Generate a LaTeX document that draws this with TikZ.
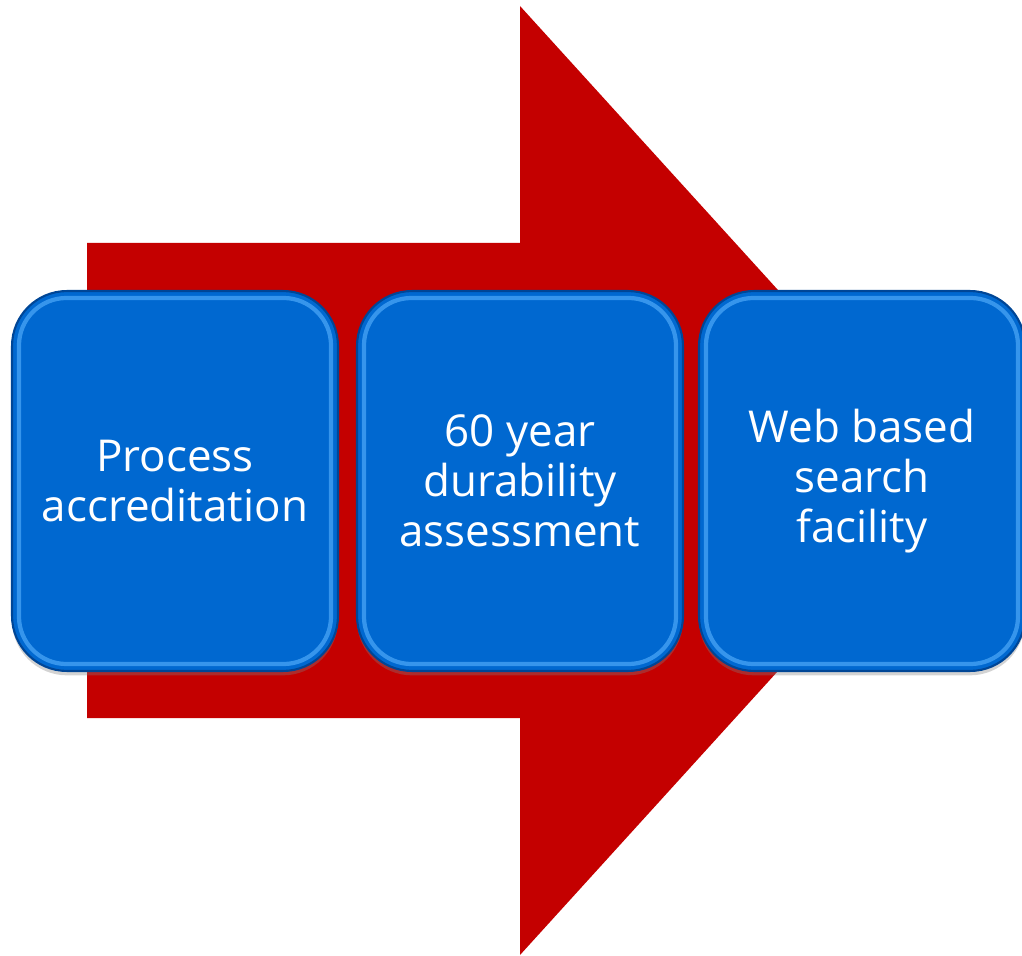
\documentclass[tikz,border=0pt]{standalone}
\usepackage{fontspec}
\setmainfont{Open Sans}
\usetikzlibrary{shadows}
\definecolor{arrowred}{RGB}{196,0,0}
\definecolor{boxblue}{RGB}{0,104,208}
\definecolor{boxedge}{RGB}{0,70,150}
\definecolor{boxlight}{RGB}{90,180,255}
\tikzset{
  stage/.style={
    rectangle,
    rounded corners=1.1cm,
    minimum width=6.52cm,
    minimum height=7.6cm,
    fill=boxblue,
    draw=boxedge,
    line width=1.2pt,
    text=white,
    align=center,
    font=\fontsize{25}{28.5}\selectfont,
    drop shadow={opacity=0.35, shadow xshift=0pt, shadow yshift=-2.5pt}
  },
  bevel/.style={
    rounded corners=0.95cm,
    draw=boxlight,
    line width=2.4pt,
    opacity=0.6
  }
}
\begin{document}
\begin{tikzpicture}[x=0.02cm,y=-0.02cm]
  \useasboundingbox (0,0) rectangle (1022,956);
  % big red arrow behind the stages
  \fill[arrowred] (87,243) -- (520,243) -- (520,6) -- (951,480.5)
    -- (520,955) -- (520,718) -- (87,718) -- cycle;
  % the three stages
  \node[stage] (proc) at (175,481) {Process\\accreditation};
  \node[stage] (dura) at (520,481) {60 year\\durability\\assessment};
  \node[stage] (web)  at (862,481) {Web based\\search\\facility};
  % glossy inner edge
  \foreach \b in {proc,dura,web}{
    \draw[bevel] ([shift={(8,8)}]\b.north west) rectangle ([shift={(-8,-8)}]\b.south east);
  }
\end{tikzpicture}
\end{document}
